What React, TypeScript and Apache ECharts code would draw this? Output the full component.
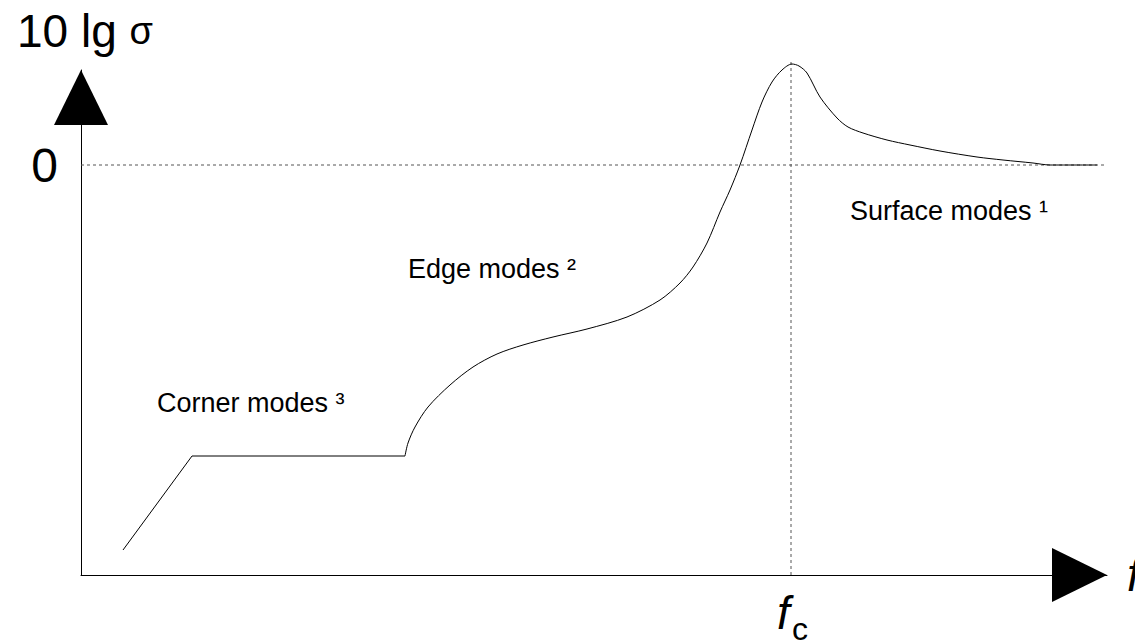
import React, { useEffect, useRef } from "react";
import * as echarts from "echarts";

// Axis extents (arbitrary schematic units)
const X_MIN = 0;
const X_MAX = 102.6;
const Y_MIN = -41;
const Y_MAX = 9.5;

// Coincidence (critical) frequency
const F_C = 71;

// Corner modes: straight rise, then a plateau
const cornerModes: [number, number][] = [
  [4.2, -38.5],
  [11.1, -29.1],
  [32.4, -29.1],
];

// Edge modes rising to the coincidence peak, then surface modes decaying to 0 dB
const edgeSurfaceModes: [number, number][] = [
  [32.4, -29.1],
  [32.7, -27.8],
  [33.4, -26.2],
  [34.7, -24.2],
  [36.9, -22.0],
  [39.2, -20.2],
  [41.6, -18.9],
  [44.2, -18.0],
  [47.2, -17.2],
  [50.6, -16.4],
  [54.6, -15.2],
  [57.9, -13.5],
  [59.9, -11.8],
  [61.2, -10.2],
  [62.6, -7.8],
  [63.9, -4.7],
  [64.9, -2.5],
  [65.9, 0],
  [67.1, 3.5],
  [68.1, 6.3],
  [69.1, 8.3],
  [70.1, 9.5],
  [71.1, 10.1],
  [71.8, 9.9],
  [72.6, 9.2],
  [73.9, 6.8],
  [75.6, 4.7],
  [76.7, 3.8],
  [78.2, 3.2],
  [80.6, 2.5],
  [82.9, 2.0],
  [85.9, 1.4],
  [89.6, 0.8],
  [92.2, 0.5],
  [95.2, 0.2],
  [96.9, 0],
  [101.6, 0],
];

// Reference lines: 0 dB level and the critical frequency
const zeroLevel: [number, number][] = [
  [X_MIN, 0],
  [X_MAX, 0],
];
const criticalLine: [number, number][] = [
  [F_C, Y_MIN],
  [F_C, 10.3],
];

const FONT = "'Liberation Sans', Arial, Helvetica, sans-serif";
const AXIS_COLOR = "#000";
const DOT_COLOR = "#555";

export default function App() {
  const ref = useRef<HTMLDivElement>(null);

  useEffect(() => {
    if (!ref.current) return;
    const chart = echarts.init(ref.current, null, { renderer: "svg" });

    const arrowLine = {
      show: true,
      onZero: false,
      symbol: ["none", "triangle"],
      symbolSize: [54, 55],
      symbolOffset: [0, -27.5],
      lineStyle: { color: AXIS_COLOR, width: 1 },
    };

    chart.setOption({
      animation: false,
      backgroundColor: "#fff",
      grid: {
        left: 81,
        right: 28,
        top: 70,
        bottom: 65,
        containLabel: false,
        outerBoundsMode: "none",
      },
      xAxis: {
        type: "value",
        min: X_MIN,
        max: X_MAX,
        interval: F_C,
        axisLine: arrowLine,
        axisTick: { show: false },
        splitLine: { show: false },
        axisLabel: { show: false },
        name: "f",
        nameLocation: "end",
        nameGap: 20,
        nameTextStyle: {
          fontFamily: FONT,
          fontSize: 46,
          fontStyle: "italic",
          color: "#000",
          verticalAlign: "middle",
          padding: [8, 0, 0, 0],
        },
      },
      yAxis: {
        type: "value",
        min: Y_MIN,
        max: Y_MAX,
        interval: 41,
        axisLine: arrowLine,
        axisTick: { show: false },
        splitLine: { show: false },
        axisLabel: {
          margin: 23,
          fontFamily: FONT,
          fontSize: 48,
          color: "#000",
          padding: [7, 0, 0, 0],
          formatter: (v: number) => (v === 0 ? "0" : ""),
        },
      },
      series: [
        {
          name: "0 dB",
          type: "line",
          data: zeroLevel,
          symbol: "none",
          silent: true,
          lineStyle: { color: DOT_COLOR, width: 1, type: [3, 3] },
          z: 1,
        },
        {
          name: "fc",
          type: "line",
          data: criticalLine,
          symbol: "none",
          silent: true,
          clip: false,
          lineStyle: { color: DOT_COLOR, width: 1, type: [3, 3] },
          z: 1,
        },
        {
          name: "corner modes",
          type: "line",
          data: cornerModes,
          symbol: "none",
          lineStyle: { color: "#000", width: 1 },
          z: 3,
        },
        {
          name: "edge and surface modes",
          type: "line",
          data: edgeSurfaceModes,
          symbol: "none",
          smooth: 0.3,
          clip: false,
          lineStyle: { color: "#000", width: 1 },
          z: 3,
        },
      ],
    });

    // Place the f_c label under the critical-frequency line
    const [fcX, axisY] = chart.convertToPixel({ gridIndex: 0 }, [F_C, Y_MIN]) as number[];

    chart.setOption({
      graphic: [
        {
          type: "text",
          x: 17,
          y: 31,
          style: {
            text: "{a|10 lg }{s|σ}",
            verticalAlign: "middle",
            rich: {
              a: { fontFamily: FONT, fontSize: 46, fill: "#000" },
              s: { fontFamily: FONT, fontSize: 38, fill: "#000" },
            },
          },
        },
        {
          type: "text",
          x: fcX - 14,
          y: axisY + 38,
          style: {
            text: "f",
            fontFamily: FONT,
            fontSize: 46,
            fontStyle: "italic",
            fill: "#000",
            align: "left",
            verticalAlign: "middle",
          },
        },
        {
          type: "text",
          x: fcX + 1,
          y: axisY + 54,
          style: {
            text: "c",
            fontFamily: FONT,
            fontSize: 32,
            fill: "#000",
            align: "left",
            verticalAlign: "middle",
          },
        },
        {
          type: "text",
          x: 157,
          y: 403,
          style: {
            text: "Corner modes ³",
            fontFamily: FONT,
            fontSize: 27,
            fill: "#000",
            verticalAlign: "middle",
          },
        },
        {
          type: "text",
          x: 408,
          y: 269,
          style: {
            text: "Edge modes ²",
            fontFamily: FONT,
            fontSize: 27,
            fill: "#000",
            verticalAlign: "middle",
          },
        },
        {
          type: "text",
          x: 850,
          y: 211,
          style: {
            text: "Surface modes ¹",
            fontFamily: FONT,
            fontSize: 27,
            fill: "#000",
            verticalAlign: "middle",
          },
        },
      ],
    });

    return () => chart.dispose();
  }, []);

  return (
    <div
      ref={ref}
      style={{ position: "fixed", left: 0, top: 0, width: 1135, height: 640, background: "#fff" }}
    />
  );
}
